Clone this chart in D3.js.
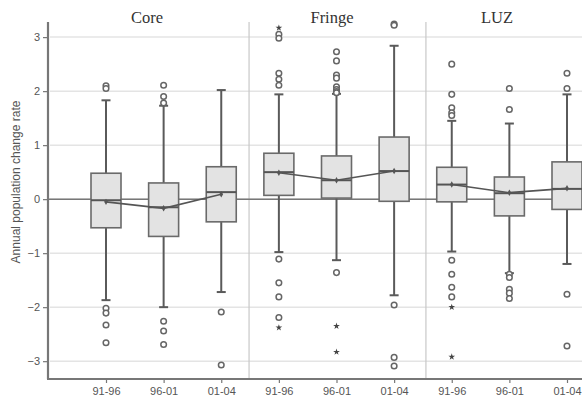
<!DOCTYPE html>
<html>
<head>
<meta charset="utf-8">
<script src="https://cdn.jsdelivr.net/npm/d3@7"></script>
<style>
  html, body { margin: 0; padding: 0; background: #fff; }
  svg { display: block; }
</style>
</head>
<body>
<svg id="chart" width="582" height="404"></svg>
<script>
// ---- data ----
const panels = ["Core", "Fringe", "LUZ"];
const periods = ["91-96", "96-01", "01-04"];
const categories = ["Core|91-96","Core|96-01","Core|01-04","Fringe|91-96","Fringe|96-01","Fringe|01-04","LUZ|91-96","LUZ|96-01","LUZ|01-04"];
const q1Values      = [-0.53, -0.69, -0.42, 0.07, 0.02, -0.04, -0.05, -0.31, -0.19];
const medianValues  = [-0.02, -0.15, 0.13, 0.50, 0.35, 0.52, 0.27, 0.11, 0.19];
const q3Values      = [0.48, 0.30, 0.60, 0.85, 0.80, 1.15, 0.59, 0.41, 0.69];
const whiskerLow    = [-1.87, -2.00, -1.72, -0.98, -1.13, -1.78, -0.97, -1.37, -1.20];
const whiskerHigh   = [1.83, 1.73, 2.02, 1.94, 1.95, 2.84, 1.45, 1.40, 1.94];
const meanValues    = [-0.05, -0.17, 0.09, 0.49, 0.35, 0.52, 0.27, 0.12, 0.20];
const outlierValues = [
  [2.10, 2.05, -2.02, -2.11, -2.33, -2.66],
  [2.11, 1.90, 1.78, -2.26, -2.44, -2.69],
  [-2.09, -3.07],
  [3.05, 2.98, 2.33, 2.22, 2.11, -1.11, -1.55, -1.81, -2.19],
  [2.73, 2.56, 2.30, 2.24, 2.08, 2.03, 1.99, 1.97, -1.36],
  [3.24, 3.22, -1.96, -2.93, -3.09],
  [2.50, 1.94, 1.69, 1.60, 1.55, -1.13, -1.39, -1.63, -1.81],
  [2.05, 1.66, -1.39, -1.45, -1.67, -1.74, -1.84],
  [2.33, 2.05, -1.76, -2.72]
];
const extremeValues = [
  [], [], [],
  [3.17, -2.38],
  [-2.35, -2.83],
  [],
  [-2.00, -2.92],
  [], []
];
const yTicks = [3, 2, 1, 0, -1, -2, -3];
const yLabel = "Annual population change rate";

// ---- layout ----
const svg = d3.select("#chart");
const W = 582, H = 404;
const axisX = 48, axisBottom = 379, axisTop = 22;

const y = d3.scaleLinear().domain([-3.33, 3.28]).range([axisBottom, axisTop]);
const x = d3.scalePoint().domain(categories).range([106, 567]);
const boxW = 30;

// gridlines
svg.append("g").selectAll("line").data(yTicks).join("line")
  .attr("x1", axisX + 2).attr("x2", W)
  .attr("y1", d => y(d)).attr("y2", d => y(d))
  .attr("stroke", "#e4e4e4").attr("stroke-width", 1.5);

// panel separators
const sepX = [ (x(categories[2]) + x(categories[3])) / 2 - 1, (x(categories[5]) + x(categories[6])) / 2 + 3 ];
svg.append("g").selectAll("line").data(sepX).join("line")
  .attr("x1", d => d).attr("x2", d => d)
  .attr("y1", axisTop).attr("y2", axisBottom)
  .attr("stroke", "#c8c8c8").attr("stroke-width", 1.2);

// zero reference line
svg.append("line")
  .attr("x1", axisX).attr("x2", W)
  .attr("y1", y(0)).attr("y2", y(0))
  .attr("stroke", "#777").attr("stroke-width", 1.5);

// y axis
const yAxis = d3.axisLeft(y).tickValues(yTicks).tickSize(5).tickPadding(3).tickFormat(d3.format("d"));
const gy = svg.append("g").attr("transform", `translate(${axisX},0)`).call(yAxis);
gy.select(".domain").attr("stroke", "#777").attr("stroke-width", 2.2).attr("d", `M0,${axisTop}V${axisBottom}`);
gy.selectAll(".tick line").attr("stroke", "#777").attr("stroke-width", 1.2);
gy.selectAll(".tick text").attr("fill", "#555").style("font-family", "Liberation Sans, Arial, sans-serif").style("font-size", "11px");

// x axis
const xAxis = d3.axisBottom(x).tickSize(4).tickPadding(4).tickFormat(d => d.split("|")[1]);
const gx = svg.append("g").attr("transform", `translate(0,${axisBottom})`).call(xAxis);
gx.select(".domain").attr("stroke", "#777").attr("stroke-width", 2.2).attr("d", `M${axisX - 1},0H${W}`);
gx.selectAll(".tick line").attr("stroke", "#777").attr("stroke-width", 1.2);
gx.selectAll(".tick text").attr("fill", "#555").style("font-family", "Liberation Sans, Arial, sans-serif").style("font-size", "11px");

// y label
svg.append("text")
  .attr("transform", `translate(20,182) rotate(-90)`)
  .attr("text-anchor", "middle")
  .attr("fill", "#555")
  .style("font-family", "Liberation Sans, Arial, sans-serif")
  .style("font-size", "12px")
  .text(yLabel);

// panel titles
svg.append("g").selectAll("text").data(panels).join("text")
  .attr("x", (d, i) => [147, 332, 497][i])
  .attr("y", 23)
  .attr("text-anchor", "middle")
  .attr("fill", "#333")
  .style("font-family", "Liberation Serif, 'Times New Roman', serif")
  .style("font-size", "16.5px")
  .text(d => d);

// boxes
const boxes = svg.append("g");
categories.forEach((c, i) => {
  const cx = x(c);
  const g = boxes.append("g");
  // whiskers
  g.append("line").attr("x1", cx).attr("x2", cx).attr("y1", y(q3Values[i])).attr("y2", y(whiskerHigh[i]))
    .attr("stroke", "#5a5a5a").attr("stroke-width", 2);
  g.append("line").attr("x1", cx).attr("x2", cx).attr("y1", y(q1Values[i])).attr("y2", y(whiskerLow[i]))
    .attr("stroke", "#5a5a5a").attr("stroke-width", 2);
  [whiskerHigh[i], whiskerLow[i]].forEach(v => {
    g.append("line").attr("x1", cx - 4.5).attr("x2", cx + 4.5).attr("y1", y(v)).attr("y2", y(v))
      .attr("stroke", "#5a5a5a").attr("stroke-width", 2);
  });
  // box
  g.append("rect")
    .attr("x", cx - boxW / 2).attr("width", boxW)
    .attr("y", y(q3Values[i])).attr("height", y(q1Values[i]) - y(q3Values[i]))
    .attr("fill", "#e3e3e3").attr("stroke", "#6a6a6a").attr("stroke-width", 1.6);
  // median
  g.append("line").attr("x1", cx - boxW / 2).attr("x2", cx + boxW / 2)
    .attr("y1", y(medianValues[i])).attr("y2", y(medianValues[i]))
    .attr("stroke", "#555").attr("stroke-width", 2);
  // outliers
  g.selectAll("circle").data(outlierValues[i]).join("circle")
    .attr("cx", cx).attr("cy", d => y(d)).attr("r", 2.8)
    .attr("fill", "#fff").attr("stroke", "#666").attr("stroke-width", 1.5);
  // extremes
  g.selectAll("path.star").data(extremeValues[i]).join("path")
    .attr("class", "star")
    .attr("transform", d => `translate(${cx},${y(d)})`)
    .attr("d", d3.symbol().type(d3.symbolStar).size(14))
    .attr("fill", "#444");
});

// mean lines per panel
const meanLine = d3.line().x(d => x(d.c)).y(d => y(d.v));
panels.forEach((p, pi) => {
  const pts = [0, 1, 2].map(k => ({ c: categories[pi * 3 + k], v: meanValues[pi * 3 + k] }));
  svg.append("path").datum(pts).attr("d", meanLine)
    .attr("fill", "none").attr("stroke", "#555").attr("stroke-width", 1.6);
  svg.append("g").selectAll("path").data(pts).join("path")
    .attr("transform", d => `translate(${x(d.c)},${y(d.v)})`)
    .attr("d", d3.symbol().type(d3.symbolDiamond).size(12))
    .attr("fill", "#555");
});
</script>
</body>
</html>
